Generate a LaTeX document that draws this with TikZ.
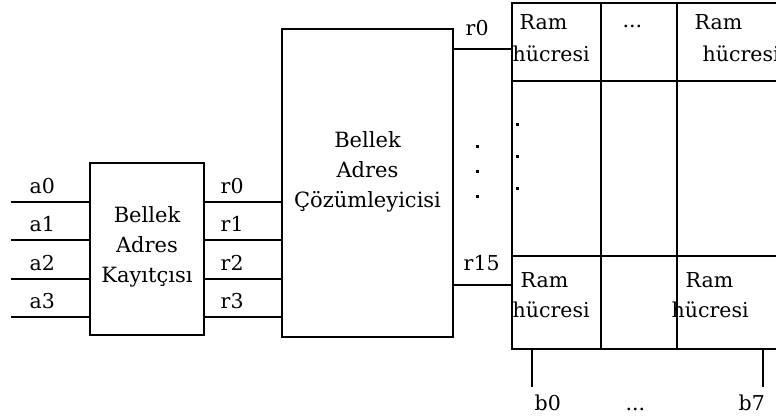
\documentclass[tikz,border=0pt]{standalone}
\usepackage{fontspec}
\setmainfont{DejaVu Serif}
\begin{document}
\begin{tikzpicture}[x=1pt,y=-1pt,line width=1.4pt,
  txt/.style={font=\fontsize{20.5}{30}\selectfont, inner sep=0pt, anchor=base west},
  ctxt/.style={font=\fontsize{21}{30}\selectfont, inner sep=0pt, align=center},
  blk/.style={draw, inner sep=0pt},
  dotmark/.style={fill=black, inner sep=0pt, minimum size=3pt}]
\useasboundingbox (0,0) rectangle (776,416);
\clip (0,0) rectangle (776,416);
% blocks
\node[blk, minimum width=114pt, minimum height=172pt] (reg) at (147,249) {};
\node[ctxt] at (147,247) {Bellek\\Adres\\Kayıtçısı};
\node[blk, minimum width=171pt, minimum height=308pt] (dec) at (367.5,183) {};
\node[ctxt] at (367.5,172) {Bellek\\Adres\\Çözümleyicisi};
% grid cells
\node[blk, minimum width=89pt, minimum height=78pt] (c11) at (556.5,42) {};
\node[blk, minimum width=76pt, minimum height=78pt] (c12) at (639,42) {};
\node[blk, minimum width=123pt, minimum height=78pt] (c13) at (738.5,42) {};
\node[blk, minimum width=89pt, minimum height=175pt] (c21) at (556.5,168.5) {};
\node[blk, minimum width=76pt, minimum height=175pt] (c22) at (639,168.5) {};
\node[blk, minimum width=123pt, minimum height=175pt] (c23) at (738.5,168.5) {};
\node[blk, minimum width=89pt, minimum height=93pt] (c31) at (556.5,302.5) {};
\node[blk, minimum width=76pt, minimum height=93pt] (c32) at (639,302.5) {};
\node[blk, minimum width=123pt, minimum height=93pt] (c33) at (738.5,302.5) {};
% cell texts
\node[txt] at (519,29) {Ram};
\node[txt] at (512,61) {hücresi};
\node[txt] at (694,29) {Ram};
\node[txt] at (702,61) {hücresi};
\node[txt] at (520,287) {Ram};
\node[txt] at (512,317) {hücresi};
\node[txt] at (685,287) {Ram};
\node[txt] at (671,317) {hücresi};
\node[txt] at (622,27) {...};
% dots
\node[dotmark] (m1) at (477,146) {};
\node[dotmark] (m2) at (477,171) {};
\node[dotmark] (m3) at (477,196) {};
\node[dotmark] (g1) at (517,124) {};
\node[dotmark] (g2) at (517,156) {};
\node[dotmark] (g3) at (517,188) {};
% inputs
\foreach \i/\y in {0/202,1/240,2/279,3/317}{
  \coordinate (a\i) at (11,\y);
  \draw (a\i) -- (a\i -| reg.west);
  \node[txt] at (29,\y-9) {a\i};
  \coordinate (q\i) at (reg.east |- a\i);
  \draw (q\i) -- (q\i -| dec.west);
  \node[txt] at (220,\y-9) {r\i};
}
% decoder outputs
\coordinate (o0) at (dec.east |- 0,49);
\draw (o0) -- (o0 -| c11.west);
\node[txt] at (465,35) {r0};
\coordinate (o15) at (dec.east |- 0,285);
\draw (o15) -- (o15 -| c31.west);
\node[txt] at (463,270) {r15};
% bit lines
\coordinate (b0) at (532,387);
\draw (b0 |- c31.south) -- (b0);
\coordinate (b7) at (763,387);
\draw (b7 |- c33.south) -- (b7);
\node[txt] at (534,410) {b0};
\node[txt] at (625,410) {...};
\node[txt] at (738,410) {b7};
\end{tikzpicture}
\end{document}
